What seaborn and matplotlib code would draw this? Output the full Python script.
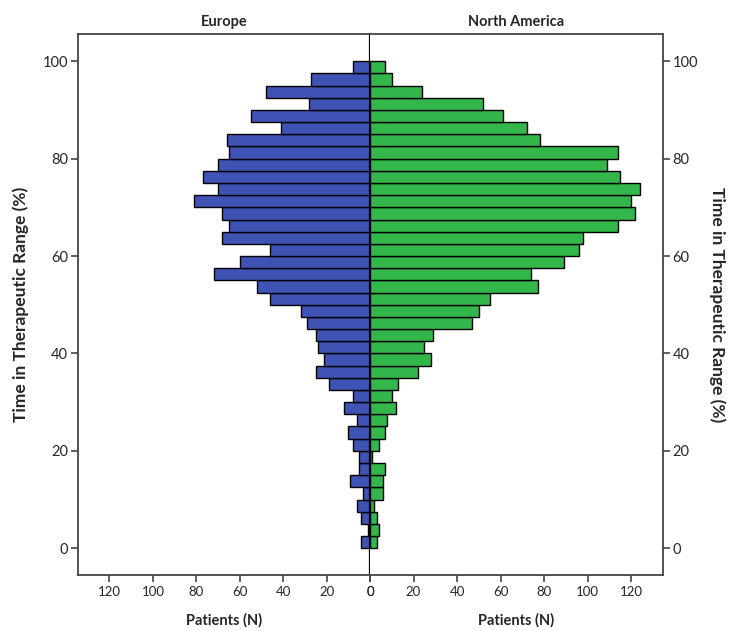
import numpy as np
import pandas as pd
import matplotlib
matplotlib.use("Agg")
import matplotlib.pyplot as plt
import seaborn as sns

# 2.5 % bins from 0 to 100; mid points of each bin
bin_mid = np.arange(1.25, 100, 2.5)

# patient counts per bin, bottom (0 %) to top (100 %)
europe = [4, 1, 4, 6, 3, 9, 5, 5, 8, 10,
          6, 12, 8, 19, 25, 21, 24, 25, 29, 32,
          46, 52, 72, 60, 46, 68, 65, 68, 81, 70,
          77, 70, 65, 66, 41, 55, 28, 48, 27, 8]
north_america = [3, 4, 3, 2, 6, 6, 7, 1, 4, 7,
                 8, 12, 10, 13, 22, 28, 25, 29, 47, 50,
                 55, 77, 74, 89, 96, 98, 114, 122, 120, 124,
                 115, 109, 114, 78, 72, 61, 52, 24, 10, 7]

panels = ["Europe", "North America"]
x_ticks = [0, 20, 40, 60, 80, 100, 120]
y_ticks = [0, 20, 40, 60, 80, 100]

BLUE = "#3f53b5"
GREEN = "#34b74a"
FRAME = "#444444"


def main():
    df = pd.DataFrame({"ttr": np.concatenate([bin_mid, bin_mid]),
                       "n": europe + north_america,
                       "region": [panels[0]] * len(bin_mid) + [panels[1]] * len(bin_mid)})

    sns.set_style("white")
    plt.rcParams["font.family"] = ["Lato", "DejaVu Sans"]

    fig = plt.figure(figsize=(7.32, 6.31), dpi=100)
    ax_l = fig.add_axes([78 / 732, 1 - 575 / 631, 292 / 732, 541 / 631])
    ax_r = fig.add_axes([370 / 732, 1 - 575 / 631, 292.7 / 732, 541 / 631], sharey=ax_l)

    for ax, reg, col in [(ax_l, panels[0], BLUE), (ax_r, panels[1], GREEN)]:
        sns.histplot(data=df[df["region"] == reg], y="ttr", weights="n",
                     binwidth=2.5, binrange=(0, 100), color=col, alpha=1,
                     edgecolor="black", linewidth=1.0, ax=ax)
        ax.set_xticks(x_ticks)
        ax.set_yticks(y_ticks)
        ax.tick_params(axis="x", direction="out", length=5, width=1.2,
                       color=FRAME, labelsize=9.5, pad=3, bottom=True)
        ax.tick_params(axis="y", direction="out", length=5, width=1.2,
                       color=FRAME, labelsize=10.5, pad=2)
        for s in ax.spines.values():
            s.set_color(FRAME)
            s.set_linewidth(1.3)
        ax.set_xlabel("Patients (N)", fontsize=10.5, fontweight="bold", labelpad=11)
        ax.set_title(reg, fontsize=10.5, fontweight="bold", pad=6)

    ax_l.set_xlim(134.5, 0)
    ax_r.set_xlim(0, 134.5)
    ax_l.set_ylim(-5.5, 105.6)

    # center line at zero
    ax_l.spines["right"].set_color("black")
    ax_l.spines["right"].set_linewidth(1.6)
    ax_r.spines["left"].set_visible(False)

    ax_l.set_ylabel("Time in Therapeutic Range (%)", fontsize=12.5,
                    fontweight="bold", labelpad=10)
    ax_r.yaxis.tick_right()
    ax_r.yaxis.set_label_position("right")
    ax_r.tick_params(axis="y", labelright=True, labelleft=False, left=False, right=True)
    ax_r.set_ylabel("Time in Therapeutic Range (%)", fontsize=12.5,
                    fontweight="bold", rotation=-90, labelpad=20)
    ax_l.tick_params(axis="y", left=True)

    fig.savefig("out.png", dpi=100)


if __name__ == "__main__":
    main()
